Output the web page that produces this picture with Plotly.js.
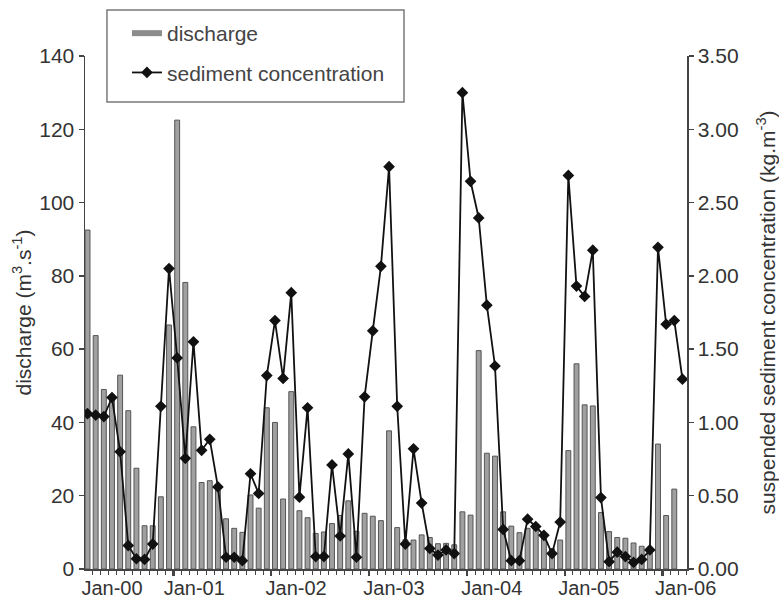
<!DOCTYPE html>
<html>
<head>
<meta charset="utf-8">
<script src="https://cdn.plot.ly/plotly-3.0.1.min.js"></script>
<style>html,body{margin:0;padding:0;background:#fff;}#chart{width:779px;height:598px;}</style>
</head>
<body>
<div id="chart"></div>
<script>
// Monthly discharge (m3/s) and suspended sediment concentration (kg/m3)
const discharge = [92.5, 63.7, 49.0, 47.5, 52.9, 43.2, 27.5, 11.8, 11.8, 19.7,
  66.6, 122.5, 78.2, 38.8, 23.6, 24.1, 21.5, 13.7, 11.1, 10.0,
  20.2, 16.6, 44.0, 40.0, 19.1, 48.4, 15.9, 14.0, 9.7, 10.1,
  12.4, 14.6, 18.6, 10.3, 15.2, 14.4, 13.2, 37.7, 11.3, 8.0,
  7.9, 9.3, 8.6, 6.9, 7.0, 6.6, 15.6, 14.7, 59.6, 31.6,
  30.8, 15.6, 11.7, 9.9, 11.1, 11.5, 9.5, 5.5, 7.9, 32.3,
  56.0, 44.8, 44.5, 15.4, 10.2, 8.6, 8.4, 7.1, 6.2, 5.6,
  34.1, 14.6, 21.8, null];
const sediment = [1.06, 1.05, 1.04, 1.17, 0.80, 0.16, 0.07, 0.065, 0.17, 1.11,
  2.05, 1.44, 0.755, 1.55, 0.81, 0.885, 0.56, 0.08, 0.08, 0.057,
  0.65, 0.515, 1.32, 1.695, 1.30, 1.885, 0.49, 1.10, 0.085, 0.085,
  0.71, 0.225, 0.785, 0.08, 1.175, 1.625, 2.065, 2.745, 1.11, 0.17,
  0.82, 0.45, 0.14, 0.095, 0.13, 0.105, 3.25, 2.645, 2.395, 1.80,
  1.385, 0.27, 0.057, 0.057, 0.34, 0.29, 0.23, 0.105, 0.32, 2.685,
  1.93, 1.86, 2.175, 0.487, 0.05, 0.115, 0.085, 0.045, 0.065, 0.13,
  2.195, 1.67, 1.695, 1.295];
const tickLabels = ['Jan-00', 'Jan-01', 'Jan-02', 'Jan-03', 'Jan-04', 'Jan-05', 'Jan-06'];
const labelPos = [3.0, 13.1, 25.6, 37.6, 49.6, 61.5, 73.4];
const yearTickPos = [10.55, 22.55, 34.55, 46.55, 58.55, 70.55];

const monthIdx = sediment.map((_, i) => i);
const monthTicks = sediment.map((_, i) => i - 0.45).concat([73.55]);

const font = {family: '"Liberation Sans", Arial, sans-serif', size: 21, color: '#333'};
const xFont = {family: font.family, size: 20, color: '#333'};
const axisColor = '#444';

const traces = [
  // legend proxy for the discharge bars
  {type: 'scatter', mode: 'lines', x: [null], y: [null], name: 'discharge', legendgroup: 'a',
   line: {color: '#8c8c8c', width: 6}, hoverinfo: 'skip'},
  {type: 'bar', x: monthIdx, y: discharge, width: 0.6, showlegend: false,
   marker: {color: '#a0a0a0', line: {color: '#555', width: 1}}, hoverinfo: 'y'},
  {type: 'scatter', mode: 'lines+markers', x: monthIdx, y: sediment, yaxis: 'y2',
   name: 'sediment concentration', legendgroup: 'b',
   line: {color: '#111', width: 1.8}, marker: {symbol: 'diamond', size: 9, color: '#111'}},
  // carrier for the year tick axis
  {type: 'scatter', mode: 'none', x: [null], y: [null], xaxis: 'x2', showlegend: false, hoverinfo: 'skip'}
];

const layout = {
  width: 779, height: 598,
  margin: {l: 85, r: 92, t: 56, b: 29},
  paper_bgcolor: '#fff', plot_bgcolor: '#fff',
  font: font,
  bargap: 0.4,
  showlegend: true,
  legend: {x: 0.0697, y: 1.0838, xanchor: 'left', yanchor: 'top', traceorder: 'grouped',
           tracegroupgap: 9, bgcolor: 'rgba(0,0,0,0)', borderwidth: 0,
           font: {family: font.family, size: 21, color: '#444'}},
  xaxis: {range: [-0.31, 73.56], showgrid: false, zeroline: false,
          showline: true, linecolor: axisColor, linewidth: 1.5,
          tickmode: 'array', tickvals: labelPos, ticktext: tickLabels, ticks: '',
          tickfont: xFont, ticklabelstandoff: 0,
          minor: {tickmode: 'array', tickvals: monthTicks, ticks: 'outside', ticklen: 4,
                  tickwidth: 1, tickcolor: axisColor, showgrid: false}},
  xaxis2: {overlaying: 'x', anchor: 'y', side: 'bottom', range: [-0.31, 73.56],
           showgrid: false, zeroline: false, showline: false, showticklabels: false,
           tickmode: 'array', tickvals: yearTickPos, ticks: 'outside', ticklen: 6,
           tickwidth: 2.2, tickcolor: axisColor},
  yaxis: {range: [0, 140], tickmode: 'array', tickvals: [0, 20, 40, 60, 80, 100, 120, 140],
          showgrid: false, zeroline: false, showline: true, linecolor: axisColor, linewidth: 1.5,
          ticks: 'outside', ticklen: 5, tickwidth: 1.5, tickcolor: axisColor, tickfont: font,
          title: {text: 'discharge (m<sup>3</sup>.s<sup>-1</sup>)', font: font, standoff: 2}},
  yaxis2: {range: [0, 3.5], overlaying: 'y', side: 'right', anchor: 'x',
           tickmode: 'array', tickvals: [0, 0.5, 1, 1.5, 2, 2.5, 3, 3.5], tickformat: '.2f',
           showgrid: false, zeroline: false, showline: true, linecolor: axisColor, linewidth: 1.5,
           ticks: 'outside', ticklen: 5, tickwidth: 1.5, tickcolor: axisColor, tickfont: font,
           title: {text: 'suspended sediment concentration (kg.m<sup>-3</sup>)', font: font, standoff: 22}},
  shapes: [{type: 'rect', xref: 'paper', yref: 'paper',
            x0: 0.0365, x1: 0.5299, y0: 0.9103, y1: 1.0897,
            line: {color: '#7a7a7a', width: 1.5}, fillcolor: 'rgba(255,255,255,0)', layer: 'above'}]
};

Plotly.newPlot('chart', traces, layout, {staticPlot: true, displayModeBar: false});
</script>
</body>
</html>
